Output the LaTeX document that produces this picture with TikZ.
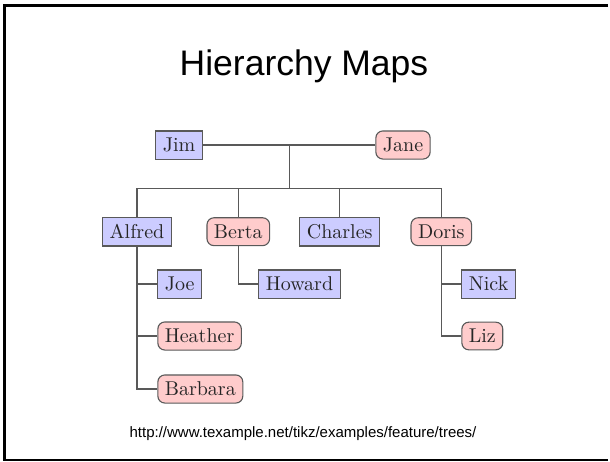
\documentclass[tikz,border=0pt]{standalone}
\usepackage{fontspec}
\newfontfamily\arialish{Liberation Sans}
\newcommand\nm[1]{\scalebox{2}{#1}}
\tikzset{
  conn/.style={draw=black!65, line width=1.1pt},
  person/.style={draw=black!65, line width=1.1pt, inner sep=7pt, rectangle, text=black!85},
  man/.style={person, fill=blue!20},
  woman/.style={person, fill=red!20, rounded corners=7pt},
  kid/.style={anchor=west},
}
\begin{document}
\begin{tikzpicture}[x=1pt,y=-1pt]
\useasboundingbox (0,0) rectangle (610,461);
\fill[white] (0,0) rectangle (610,461);
% slide frame (open on the right)
\draw[black, line width=2.6pt] (608,5.5) -- (4.5,5.5) -- (4.5,459.8) -- (608,459.8);
% title and source
\node[font=\arialish\fontsize{35.5}{40}\selectfont, anchor=base] (title) at (304,75.7) {Hierarchy Maps};
\node[font=\arialish\fontsize{15}{18}\selectfont, anchor=base] (src) at (303,437.5) {http://www.texample.net/tikz/examples/feature/trees/};
% parents
\node[man] (jim) at (179,145) {\nm{Jim}};
\node[woman] (jane) at (403,145) {\nm{Jane}};
\coordinate (fork) at (289.3,145);
\coordinate (forkb) at (289.3,188.3);
% children
\node[man] (alfred) at (137,231.7) {\nm{Alfred}};
\node[woman] (berta) at (238.3,231.7) {\nm{Berta}};
\node[man] (charles) at (339.7,231.7) {\nm{Charles}};
\node[woman] (doris) at (441.3,231.7) {\nm{Doris}};
% grandchildren
\node[man,kid] (joe) at (157.3,284) {\nm{Joe}};
\node[woman,kid] (heather) at (157.3,336) {\nm{Heather}};
\node[woman,kid] (barbara) at (157.3,389) {\nm{Barbara}};
\node[man,kid] (howard) at (258.3,284) {\nm{Howard}};
\node[man,kid] (nick) at (461.3,284) {\nm{Nick}};
\node[woman,kid] (liz) at (461.3,336) {\nm{Liz}};
% connectors
\draw[conn] (jim.east) -- (jane.west);
\draw[conn] (fork) -- (forkb);
\draw[conn] (forkb) -| (alfred.north);
\draw[conn] (forkb) -| (berta.north);
\draw[conn] (forkb) -| (charles.north);
\draw[conn] (forkb) -| (doris.north);
\draw[conn] (alfred.south) |- (joe.west);
\draw[conn] (alfred.south) |- (heather.west);
\draw[conn] (alfred.south) |- (barbara.west);
\draw[conn] (berta.south) |- (howard.west);
\draw[conn] (doris.south) |- (nick.west);
\draw[conn] (doris.south) |- (liz.west);
\end{tikzpicture}
\end{document}
